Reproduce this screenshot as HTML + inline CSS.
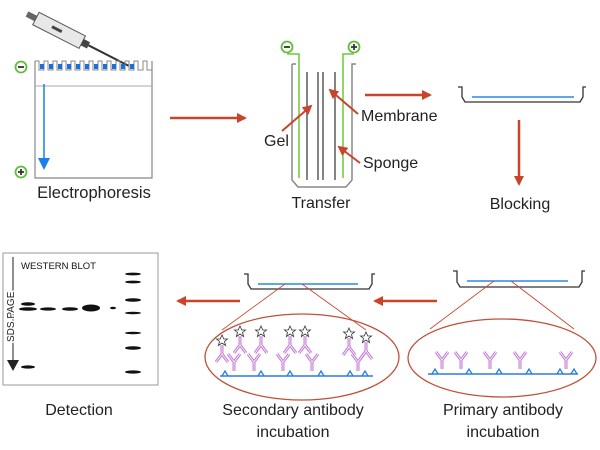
<!DOCTYPE html>
<html><head><meta charset="utf-8"><style>
html,body{margin:0;padding:0;background:#fff;}
svg{display:block;font-family:"Liberation Sans",sans-serif;}
</style></head><body>
<svg width="600" height="450" viewBox="0 0 600 450" xmlns="http://www.w3.org/2000/svg">
<defs>
<marker id="ar" markerWidth="10" markerHeight="10" refX="8" refY="5" orient="auto" markerUnits="userSpaceOnUse"><path d="M0,0 L10,5 L0,10 z" fill="#c8442a"/></marker>
<g id="yu"><path d="M0,0 V-9 M0,-9 L-6,-17 M0,-9 L6,-17" stroke="#c77fd6" stroke-width="3" fill="none"/><path d="M0,0 V-9 M0,-9 L-6,-17 M0,-9 L6,-17" stroke="#fff" stroke-width="0.7" fill="none"/></g>
<g id="yd"><path d="M0,0 V9 M0,9 L-6,17 M0,9 L6,17" stroke="#c77fd6" stroke-width="3" fill="none"/><path d="M0,0 V9 M0,9 L-6,17 M0,9 L6,17" stroke="#fff" stroke-width="0.7" fill="none"/><path d="M0,-10 L1.8,-6 L5.5,-6 L2.5,-3.5 L3.6,0.5 L0,-2 L-3.6,0.5 L-2.5,-3.5 L-5.5,-6 L-1.8,-6 z" fill="#fff" stroke="#333" stroke-width="0.8"/></g>
<g id="ag"><path d="M-3,0 L0,-5 L3,0" stroke="#2a7de1" stroke-width="1.3" fill="none"/></g>
</defs>
<!-- pipette -->
<g transform="translate(27,14) rotate(27)">
<rect x="0" y="-3" width="10" height="6" fill="#666"/>
<rect x="10" y="-7" width="52" height="14" fill="#e8e8e8" stroke="#555" stroke-width="1"/>
<rect x="28" y="-1.5" width="11" height="3" fill="#444"/>
<rect x="62" y="-3.5" width="7" height="7" fill="#444"/>
<line x1="69" y1="0" x2="114" y2="0" stroke="#333" stroke-width="2"/>
</g>
<!-- gel -->
<path d="M35,61 V178 H152 V61" fill="none" stroke="#888" stroke-width="1.2"/>
<line x1="35" y1="86" x2="152" y2="86" stroke="#aaa" stroke-width="1"/>
<path d="M35,61 H39 V70 H44 V61 H48 V70 H53 V61 H57 V70 H62 V61 H66 V70 H71 V61 H75 V70 H80 V61 H84 V70 H89 V61 H93 V70 H98 V61 H102 V70 H107 V61 H111 V70 H116 V61 H120 V70 H125 V61 H129 V70 H134 V61 H138 V70 H143 V61 H147 V70 H152" fill="none" stroke="#888" stroke-width="1"/>
<g fill="#1a6fd8">
<rect x="40" y="64" width="4" height="5"/><rect x="49" y="64" width="4" height="5"/><rect x="58" y="64" width="4" height="5"/><rect x="67" y="64" width="4" height="5"/><rect x="76" y="64" width="4" height="5"/><rect x="85" y="64" width="4" height="5"/><rect x="94" y="64" width="4" height="5"/><rect x="103" y="64" width="4" height="5"/><rect x="112" y="64" width="4" height="5"/><rect x="121" y="64" width="4" height="5"/><rect x="130" y="64" width="4" height="5"/>
</g>
<line x1="44" y1="84" x2="44" y2="160" stroke="#1a7fe8" stroke-width="1.5"/>
<path d="M38,158 L50,158 L44,170 z" fill="#1a7fe8"/>
<circle cx="21" cy="67" r="5.5" fill="#fff" stroke="#5fbf3a" stroke-width="1.8"/><line x1="18" y1="67" x2="24" y2="67" stroke="#333" stroke-width="1.8"/>
<circle cx="21" cy="172" r="5.5" fill="#fff" stroke="#5fbf3a" stroke-width="1.8"/><path d="M18,172 H24 M21,169 V175" stroke="#333" stroke-width="1.8"/>
<text x="94" y="198" font-size="16.5" text-anchor="middle" fill="#222">Electrophoresis</text>
<!-- arrow 1 -->
<line x1="170" y1="118" x2="245" y2="118" stroke="#c8442a" stroke-width="2.5" marker-end="url(#ar)"/>
<!-- transfer -->
<path d="M292,64 H296 M292,64 V180 L298,187 H346 L352,180 V64 H356" fill="none" stroke="#888" stroke-width="1.5"/>
<path d="M288,51 V54 H299 V178" fill="none" stroke="#6cc83a" stroke-width="1.5"/>
<path d="M353,51 V54 H343 V178" fill="none" stroke="#6cc83a" stroke-width="1.5"/>
<g stroke="#666" stroke-width="1.6"><line x1="307" y1="72" x2="307" y2="180"/><line x1="318" y1="72" x2="318" y2="180"/><line x1="323" y1="72" x2="323" y2="180"/><line x1="335" y1="72" x2="335" y2="180"/></g>
<circle cx="287" cy="47" r="5.5" fill="#fff" stroke="#5fbf3a" stroke-width="1.8"/><line x1="284" y1="47" x2="290" y2="47" stroke="#333" stroke-width="1.8"/>
<circle cx="354" cy="47" r="5.5" fill="#fff" stroke="#5fbf3a" stroke-width="1.8"/><path d="M351,47 H357 M354,44 V50" stroke="#333" stroke-width="1.8"/>
<line x1="282" y1="131" x2="311" y2="106" stroke="#c8442a" stroke-width="2" marker-end="url(#ar)"/>
<line x1="358" y1="114" x2="330" y2="90" stroke="#c8442a" stroke-width="2" marker-end="url(#ar)"/>
<line x1="360" y1="163" x2="339" y2="147" stroke="#c8442a" stroke-width="2" marker-end="url(#ar)"/>
<text x="264" y="146" font-size="16" fill="#222">Gel</text>
<text x="361" y="121" font-size="16" fill="#222">Membrane</text>
<text x="363" y="168" font-size="16" fill="#222">Sponge</text>
<text x="321" y="208" font-size="16" text-anchor="middle" fill="#222">Transfer</text>
<!-- arrow 2 -->
<line x1="365" y1="95" x2="430" y2="95" stroke="#c8442a" stroke-width="2.5" marker-end="url(#ar)"/>
<!-- blocking -->
<path d="M458,87 H462 V97 L465,102 H580 L583,97 V87 H586" fill="none" stroke="#333" stroke-width="1.3"/>
<line x1="472" y1="97" x2="574" y2="97" stroke="#2a8ae0" stroke-width="1.5"/>
<line x1="519" y1="120" x2="519" y2="184" stroke="#c8442a" stroke-width="2.5" marker-end="url(#ar)"/>
<text x="520" y="209" font-size="16" text-anchor="middle" fill="#222">Blocking</text>
<!-- detection -->
<rect x="3" y="253" width="155" height="132" fill="none" stroke="#999" stroke-width="1"/>
<text x="21" y="269" font-size="9.5" fill="#111">WESTERN BLOT</text>
<line x1="13" y1="257" x2="13" y2="362" stroke="#222" stroke-width="1"/>
<path d="M7,360 L19,360 L13,371 z" fill="#222"/>
<text transform="translate(14,342) rotate(-90)" font-size="10" fill="#222" stroke="#fff" stroke-width="3" paint-order="stroke">SDS PAGE</text>
<g fill="#111">
<ellipse cx="28" cy="304" rx="7" ry="1.8"/><ellipse cx="28" cy="309" rx="9" ry="1.8"/>
<ellipse cx="48" cy="309" rx="8" ry="1.6"/><ellipse cx="70" cy="309" rx="8" ry="1.8"/>
<ellipse cx="91" cy="308" rx="9" ry="3.5"/><ellipse cx="113" cy="308" rx="3" ry="1.2"/>
<ellipse cx="28" cy="367" rx="7" ry="1.6"/>
<ellipse cx="133" cy="274" rx="8" ry="1.4"/><ellipse cx="133" cy="282" rx="8" ry="1.4"/><ellipse cx="133" cy="300" rx="8" ry="1.8"/><ellipse cx="133" cy="313" rx="8" ry="1.2"/><ellipse cx="133" cy="333" rx="8" ry="1.2"/><ellipse cx="133" cy="348" rx="8" ry="1.8"/><ellipse cx="133" cy="372" rx="8" ry="1.6"/>
</g>
<text x="79" y="415" font-size="16" text-anchor="middle" fill="#222">Detection</text>
<!-- arrows bottom -->
<line x1="240" y1="301" x2="178" y2="301" stroke="#c8442a" stroke-width="2.5" marker-end="url(#ar)"/>
<line x1="437" y1="301" x2="375" y2="301" stroke="#c8442a" stroke-width="2.5" marker-end="url(#ar)"/>
<!-- secondary tray -->
<path d="M244,274 H248 V284 L251,289 H369 L372,284 V274 H375" fill="none" stroke="#333" stroke-width="1.3"/>
<line x1="258" y1="284" x2="358" y2="284" stroke="#2a8ae0" stroke-width="1.5"/>
<line x1="285" y1="284" x2="222" y2="330" stroke="#c8442a" stroke-width="0.8"/>
<line x1="302" y1="284" x2="366" y2="330" stroke="#c8442a" stroke-width="0.8"/>
<ellipse cx="302" cy="357" rx="97" ry="43" fill="none" stroke="#c0503a" stroke-width="1.3"/>
<line x1="220" y1="376" x2="373" y2="376" stroke="#2a7de1" stroke-width="1.5"/>
<use href="#ag" x="225" y="376"/><use href="#ag" x="261" y="376"/><use href="#ag" x="290" y="376"/><use href="#ag" x="321" y="376"/><use href="#ag" x="350" y="376"/><use href="#ag" x="365" y="376"/>
<use href="#yu" x="234" y="371"/><use href="#yu" x="254" y="371"/><use href="#yu" x="283" y="371"/><use href="#yu" x="312" y="371"/><use href="#yu" x="358" y="371"/>
<use href="#yd" x="222" y="345"/><use href="#yd" x="240" y="336"/><use href="#yd" x="261" y="336"/><use href="#yd" x="290" y="336"/><use href="#yd" x="305" y="336"/><use href="#yd" x="349" y="338"/><use href="#yd" x="366" y="342"/>
<text x="293" y="415" font-size="16" text-anchor="middle" fill="#222">Secondary antibody</text>
<text x="293" y="437" font-size="16" text-anchor="middle" fill="#222">incubation</text>
<!-- primary tray -->
<path d="M453,271 H457 V282 L460,287 H579 L582,282 V271 H585" fill="none" stroke="#333" stroke-width="1.3"/>
<line x1="467" y1="281" x2="568" y2="281" stroke="#2a8ae0" stroke-width="1.5"/>
<line x1="494" y1="281" x2="430" y2="329" stroke="#c8442a" stroke-width="0.8"/>
<line x1="511" y1="281" x2="574" y2="329" stroke="#c8442a" stroke-width="0.8"/>
<ellipse cx="502" cy="358" rx="94" ry="39" fill="none" stroke="#c0503a" stroke-width="1.3"/>
<line x1="428" y1="374" x2="578" y2="374" stroke="#2a7de1" stroke-width="1.5"/>
<use href="#ag" x="435" y="374"/><use href="#ag" x="469" y="374"/><use href="#ag" x="499" y="374"/><use href="#ag" x="529" y="374"/><use href="#ag" x="560" y="374"/><use href="#ag" x="574" y="374"/>
<use href="#yu" x="442" y="369"/><use href="#yu" x="461" y="369"/><use href="#yu" x="490" y="369"/><use href="#yu" x="520" y="369"/><use href="#yu" x="566" y="369"/>
<text x="503" y="415" font-size="16" text-anchor="middle" fill="#222">Primary antibody</text>
<text x="503" y="437" font-size="16" text-anchor="middle" fill="#222">incubation</text>
</svg>
</body></html>
